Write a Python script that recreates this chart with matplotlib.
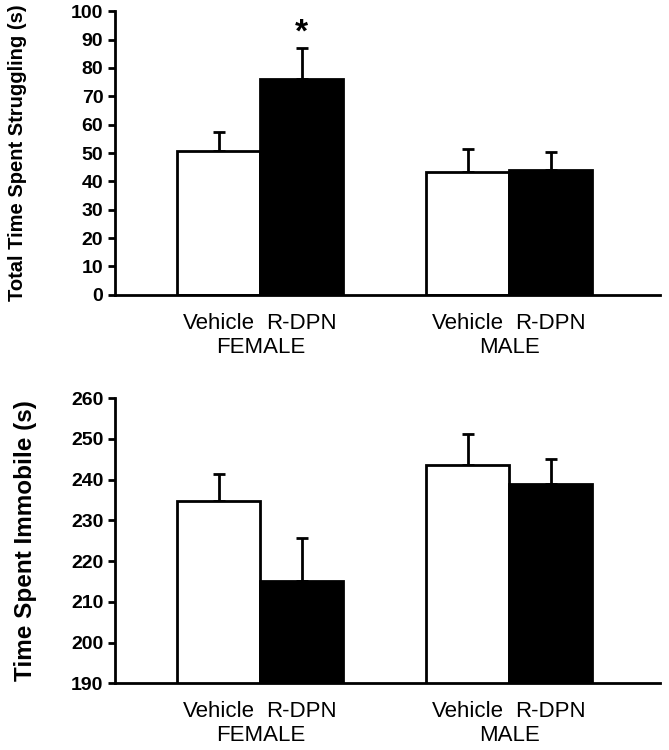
import matplotlib.pyplot as plt
import numpy as np

plt.rcParams['font.family'] = ['Liberation Sans', 'DejaVu Sans']

# data
treatments = ['Vehicle', 'R-DPN']
sexes = ['FEMALE', 'MALE']
struggle_mean = [50.8, 76.0, 43.2, 44.0]
struggle_err = [6.5, 10.9, 8.2, 6.4]
immobile_mean = [234.8, 215.1, 243.6, 238.9]
immobile_err = [6.6, 10.6, 7.7, 6.1]
bar_colors = ['white', 'black', 'white', 'black']

x = np.array([0, 1, 3, 4])

fig = plt.figure(figsize=(6.69, 7.5), dpi=100)
ax1 = fig.add_axes([0.172, 0.607, 0.815, 0.378])
ax2 = fig.add_axes([0.172, 0.089, 0.815, 0.380])


def draw(ax, means, errs, ylim, step, ylabel, lab_size, lab_x):
    ax.bar(x, means, width=1.0, color=bar_colors, edgecolor='black', linewidth=2, zorder=2)
    ax.errorbar(x, means, yerr=[np.zeros(len(errs)), errs], fmt='none', ecolor='black',
                elinewidth=2, capsize=4, capthick=2, zorder=1)
    ax.set_ylim(*ylim)
    ax.set_xlim(-1.25, 5.32)
    ax.set_yticks(np.arange(ylim[0], ylim[1] + 1, step))
    for s in ['top', 'right']:
        ax.spines[s].set_visible(False)
    ax.spines['left'].set_linewidth(2)
    ax.spines['bottom'].set_linewidth(2)
    ax.tick_params(axis='y', direction='out', length=5, width=2, labelsize=14)
    for lab in ax.get_yticklabels():
        lab.set_fontweight('bold')
    ax.set_xticks(x)
    ax.set_xticklabels(treatments * 2, fontsize=16)
    ax.tick_params(axis='x', length=0, pad=13)
    ax.set_ylabel(ylabel, fontsize=lab_size, fontweight='bold')
    ax.yaxis.set_label_coords(lab_x, 0.5)
    for i, sx in enumerate(sexes):
        ax.text((x[2 * i] + x[2 * i + 1]) / 2, -0.185, sx, transform=ax.get_xaxis_transform(),
                ha='center', va='center', fontsize=16)


draw(ax1, struggle_mean, struggle_err, (0, 100), 10, 'Total Time Spent Struggling (s)', 14.5, -0.162)
draw(ax2, immobile_mean, immobile_err, (190, 260), 10, 'Time Spent Immobile (s)', 17.5, -0.143)

ax1.text(x[1], struggle_mean[1] + struggle_err[1] + 5.5, '*', ha='center', va='center',
         fontsize=24, fontweight='bold')

plt.savefig('out.png', dpi=100)
